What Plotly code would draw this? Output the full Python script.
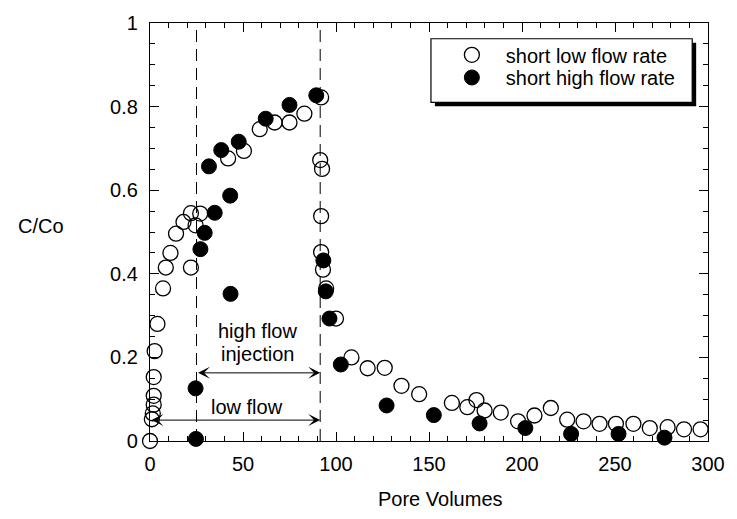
import plotly.graph_objects as go

# ---- data ----
low_x = [0, 1, 1.5, 2, 2, 2, 2.5, 4, 7, 8.5,
         11, 14, 18, 22, 22, 24.5, 27, 42, 50.5, 59,
         67, 75, 83, 92, 91.5, 92.5, 92, 92, 93, 94.7,
         100, 108.3, 117, 126.2, 135.2, 144.7, 162.3, 170.6, 175.5, 179.9,
         188.6, 197.9, 206.7, 215.5, 224.3, 233.1, 241.7, 250.5, 259.9, 268.7,
         278.3, 287.1, 296]
low_y = [0, 0.052, 0.066, 0.087, 0.108, 0.153, 0.215, 0.28, 0.365, 0.415,
         0.45, 0.496, 0.524, 0.545, 0.415, 0.516, 0.544, 0.676, 0.694, 0.746,
         0.762, 0.762, 0.783, 0.822, 0.672, 0.651, 0.538, 0.452, 0.41, 0.365,
         0.293, 0.2, 0.174, 0.175, 0.132, 0.112, 0.091, 0.081, 0.098, 0.073,
         0.068, 0.047, 0.061, 0.079, 0.051, 0.047, 0.041, 0.041, 0.041, 0.031,
         0.033, 0.028, 0.028]

high_x = [24.7, 24.5, 27.1, 29.4, 31.7, 34.8, 38.3, 43.1, 43.3, 47.7,
          62.2, 75, 89.4, 93.2, 94.5, 96.5, 102.6, 127.2, 152.6, 177.2,
          201.8, 226.4, 251.9, 276.6]
high_y = [0.005, 0.126, 0.459, 0.498, 0.657, 0.546, 0.696, 0.587, 0.352, 0.716,
          0.771, 0.804, 0.827, 0.432, 0.358, 0.293, 0.183, 0.085, 0.062, 0.042,
          0.031, 0.017, 0.017, 0.008]

series_names = ["short low flow rate", "short high flow rate"]
x_ticks = [0, 50, 100, 150, 200, 250, 300]
y_ticks = [0, 0.2, 0.4, 0.6, 0.8, 1]
phase_bounds = [25, 91.5]          # start of high flow injection, end of injection
high_arrow_y = 0.163
low_arrow_y = 0.05

FONT = "Liberation Sans, Arial, Helvetica, sans-serif"
FS = 20
txt = dict(family=FONT, size=FS, color="black")

fig = go.Figure()
fig.add_trace(go.Scatter(
    x=low_x, y=low_y, mode="markers", name=series_names[0], legend="legend",
    cliponaxis=False,
    marker=dict(symbol="circle-open", size=15, color="black",
                line=dict(width=1.3, color="black"))))
fig.add_trace(go.Scatter(
    x=high_x, y=high_y, mode="markers", name=series_names[1], legend="legend2",
    cliponaxis=False,
    marker=dict(symbol="circle", size=15, color="black",
                line=dict(width=1, color="black"))))

# dashed phase boundaries
for xb in phase_bounds:
    fig.add_shape(type="line", xref="x", yref="y", x0=xb, x1=xb, y0=0, y1=1,
                  line=dict(color="black", width=1, dash="12px,7px"))

# legend box with drop shadow
fig.add_shape(type="rect", xref="paper", yref="paper",
              x0=0.5106, x1=0.9788, y0=0.8007, y1=0.9528,
              fillcolor="black", line=dict(width=0), layer="above")
fig.add_shape(type="rect", xref="paper", yref="paper",
              x0=0.5035, x1=0.9717, y0=0.8101, y1=0.9623,
              fillcolor="white", line=dict(color="black", width=1.2), layer="above")

arrow_common = dict(xref="x", yref="y", axref="x", ayref="y", text="",
                    showarrow=True, arrowside="end+start", arrowhead=3,
                    startarrowhead=3, arrowsize=2, startarrowsize=2,
                    arrowwidth=1, arrowcolor="black")
annotations = [
    dict(x=phase_bounds[1], y=high_arrow_y, ax=phase_bounds[0], ay=high_arrow_y, **arrow_common),
    dict(x=phase_bounds[1], y=low_arrow_y, ax=0, ay=low_arrow_y, **arrow_common),
    dict(x=58, y=0.262, xref="x", yref="y", text="high flow", showarrow=False,
         xanchor="center", yanchor="middle", font=txt),
    dict(x=58, y=0.207, xref="x", yref="y", text="injection", showarrow=False,
         xanchor="center", yanchor="middle", font=txt),
    dict(x=52.1, y=0.081, xref="x", yref="y", text="low flow", showarrow=False,
         xanchor="center", yanchor="middle", font=txt),
    dict(x=-0.196, y=0.514, xref="paper", yref="paper", text="C/Co",
         showarrow=False, xanchor="center", yanchor="middle", font=txt),
    dict(x=0.521, y=(441 - 500) / 424, xref="paper", yref="paper", text="Pore Volumes",
         showarrow=False, xanchor="center", yanchor="middle", font=txt),
]

leg_common = dict(xanchor="left", yanchor="top", bgcolor="rgba(0,0,0,0)",
                  borderwidth=0, itemwidth=58, font=txt)
fig.update_layout(
    width=737, height=519,
    margin=dict(l=150, r=21, t=17, b=78),
    paper_bgcolor="white", plot_bgcolor="white",
    font=txt,
    showlegend=True,
    legend=dict(x=0.5159, y=0.9705, **leg_common),
    legend2=dict(x=0.5159, y=0.9163, **leg_common),
    annotations=annotations,
)
fig.update_xaxes(range=[0, 300], tickvals=x_ticks, ticks="inside", ticklen=9,
                 tickwidth=1, tickcolor="black", showline=True, linecolor="black",
                 linewidth=1.3, mirror="ticks", showgrid=False, zeroline=False,
                 ticklabelstandoff=5,
                 minor=dict(dtick=10, ticks="inside", ticklen=5, tickcolor="black",
                            tickwidth=1, showgrid=False))
fig.update_yaxes(range=[0, 1], tickvals=y_ticks, ticks="inside", ticklen=9,
                 tickwidth=1, tickcolor="black", showline=True, linecolor="black",
                 linewidth=1.3, mirror="ticks", showgrid=False, zeroline=False,
                 ticklabelstandoff=7,
                 minor=dict(dtick=0.05, ticks="inside", ticklen=5, tickcolor="black",
                            tickwidth=1, showgrid=False))

fig.write_html("out.html")
